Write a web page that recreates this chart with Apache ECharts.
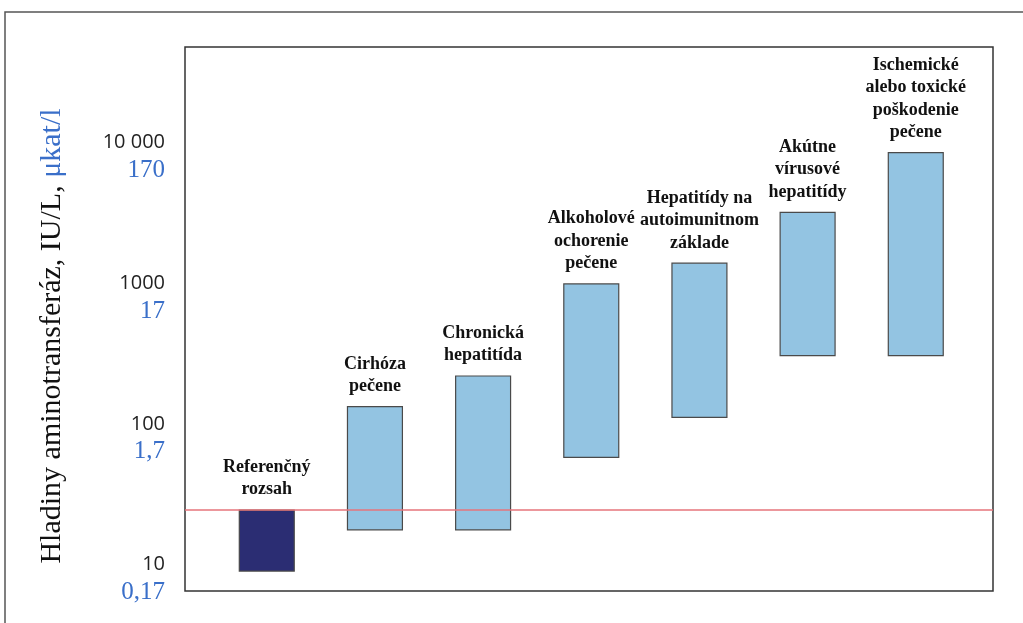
<!DOCTYPE html>
<html><head><meta charset="utf-8">
<script src="https://cdn.jsdelivr.net/npm/echarts@6/dist/echarts.min.js"></script>
<style>html,body{margin:0;padding:0;background:#fff}#c{width:1023px;height:623px}</style>
</head><body><div id="c"></div>
<script>
// Data
const categories = ['Referenčný\nrozsah','Cirhóza\npečene','Chronická\nhepatitída','Alkoholové\nochorenie\npečene','Hepatitídy na\nautoimunitnom\nzáklade','Akútne\nvírusové\nhepatitídy','Ischemické\nalebo toxické\npoškodenie\npečene'];
const lowValues  = [8.4, 16.5, 16.5, 54, 104, 286, 286];
const highValues = [22.8, 124, 205, 925, 1300, 2990, 7940];
const upperReferenceLimit = 22.8;
const tickValuesIU = [10, 100, 1000, 10000];
const tickLabelsIU = ['10', '100', '1000', '10 000'];
const tickLabelsUkat = ['0,17', '1,7', '17', '170'];

const chart = echarts.init(document.getElementById('c'), null, {renderer:'canvas'});
const seriesData = categories.map((c, i) => [i, lowValues[i], highValues[i]]);
const BAR_W = 0.508;

chart.setOption({
  backgroundColor: '#ffffff',
  animation: false,
  grid: {left: 185, top: 47, right: 30, bottom: 32, show: true, borderColor: '#333', borderWidth: 1.5, backgroundColor: 'transparent'},
  xAxis: {type: 'value', min: -0.756, max: 6.714, show: false},
  yAxis: {
    type: 'log', logBase: 10, min: 6.06, max: 44820,
    axisLine: {show: false}, axisTick: {show: false}, splitLine: {show: false},
    axisLabel: {
      customValues: tickValuesIU,
      margin: 20,
      align: 'right',
      padding: [36, 0, 0, 0],
      formatter: function (v) {
        const k = tickValuesIU.findIndex(t => Math.abs(t - v) / t < 1e-6);
        if (k < 0) return '';
        return '{a|' + tickLabelsIU[k] + '}\n{b|' + tickLabelsUkat[k] + '}';
      },
      rich: {
        a: {fontFamily: 'Open Sans', fontSize: 20, color: '#222', lineHeight: 28, align: 'right'},
        b: {fontFamily: 'Liberation Serif', fontSize: 25, color: '#3a6fc9', lineHeight: 28, align: 'right'}
      }
    }
  },
  graphic: [
    {type: 'rect', shape: {x: 5, y: 12, width: 1200, height: 800}, style: {fill: 'none', stroke: '#555', lineWidth: 1.5}, silent: true},
    {type: 'text', x: 52, y: 336, rotation: Math.PI / 2,
     style: {text: 'Hladiny aminotransferáz, IU/L, {b|μkat/l}', font: '30px "Liberation Serif"', fill: '#111', align: 'center', verticalAlign: 'middle',
             rich: {b: {fill: '#3a6fc9', font: '30px "Liberation Serif"'}}}}
  ],
  series: [{
    type: 'custom',
    data: seriesData,
    encode: {x: 0, y: [1, 2]},
    renderItem: function (params, api) {
      const i = api.value(0);
      const top = api.coord([i, api.value(2)]);
      const bot = api.coord([i, api.value(1)]);
      const w = api.size([BAR_W, 0])[0];
      const isRef = params.dataIndex === 0;
      return {
        type: 'group',
        children: [
          {type: 'rect', shape: {x: top[0] - w / 2, y: top[1], width: w, height: bot[1] - top[1]},
           style: {fill: isRef ? '#2b2d73' : '#93c4e2', stroke: '#4a4a4a', lineWidth: 1.2}},
          {type: 'text', x: top[0], y: top[1] - 9,
           style: {text: categories[params.dataIndex], font: 'bold 18px "Liberation Serif"', fill: '#111', align: 'center', verticalAlign: 'bottom', lineHeight: 22.5}}
        ]
      };
    },
    markLine: {
      silent: true, symbol: ['none', 'none'], label: {show: false},
      lineStyle: {color: '#e6757b', width: 1.5, type: 'solid'},
      data: [{yAxis: upperReferenceLimit}]
    }
  }]
});
</script></body></html>
